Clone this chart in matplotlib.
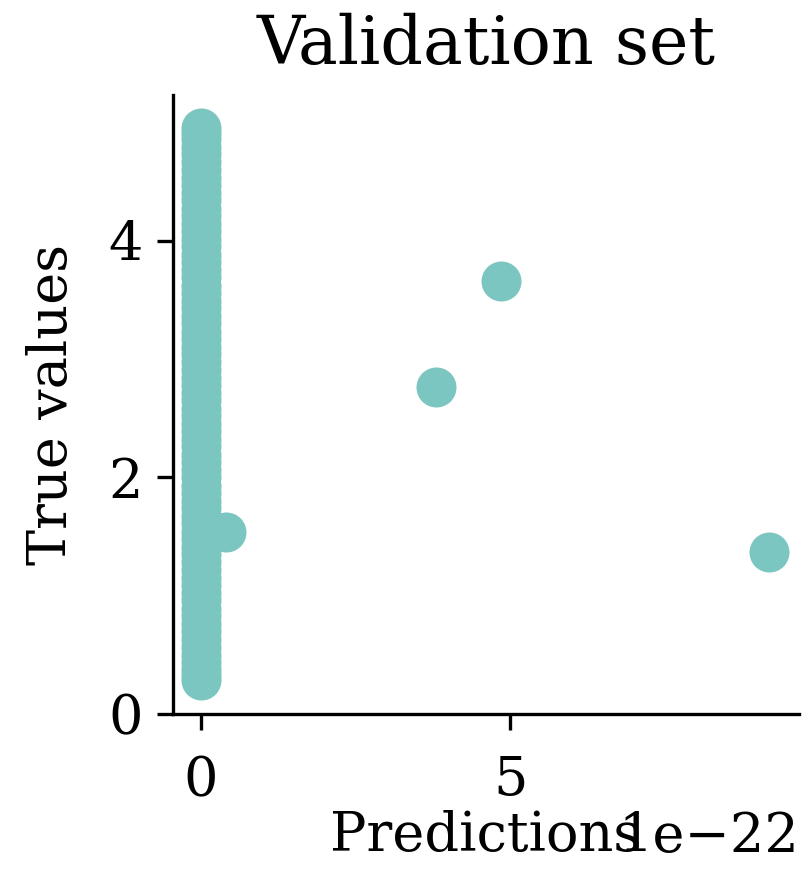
import numpy as np
import matplotlib
matplotlib.use("Agg")
import matplotlib.pyplot as plt

# predictions collapsed at zero (model output ~1e-22), true values spread out
zero_true = [0.29, 0.33, 0.38, 0.44, 0.50, 0.57, 0.63, 0.70, 0.76, 0.83,
             0.89, 0.96, 1.02, 1.09, 1.15, 1.22, 1.28, 1.35, 1.41, 1.48,
             1.54, 1.61, 1.67, 1.74, 1.80, 1.87, 1.93, 2.00, 2.06, 2.13,
             2.19, 2.26, 2.32, 2.39, 2.45, 2.52, 2.58, 2.65, 2.71, 2.78,
             2.84, 2.91, 2.97, 3.04, 3.10, 3.17, 3.23, 3.30, 3.36, 3.43,
             3.49, 3.56, 3.62, 3.69, 3.75, 3.82, 3.88, 3.95, 4.01, 4.08,
             4.14, 4.21, 4.27, 4.34, 4.40, 4.47, 4.53, 4.60, 4.66, 4.73,
             4.79, 4.86, 4.91, 4.95]
zero_pred = [0.0] * len(zero_true)

# the few non-zero predictions
other_pred = [0.40e-22, 3.80e-22, 4.85e-22, 9.17e-22]
other_true = [1.54, 2.76, 3.66, 1.37]

preds = np.array(zero_pred + other_pred)
trues = np.array(zero_true + other_true)

plt.rcParams["font.family"] = "DejaVu Serif"

fig = plt.figure(figsize=(8.05, 8.77), dpi=100)
ax = fig.add_axes([0.2149, 0.1859, 0.7776, 0.7058])

ax.scatter(preds, trues, s=830, color="#7cc6c1", linewidths=0)

ax.set_xlim(-0.45e-22, 9.66e-22)
ax.set_ylim(0, 5.23)
ax.set_xticks([0, 5e-22])
ax.set_yticks([0, 2, 4])

ax.spines["top"].set_visible(False)
ax.spines["right"].set_visible(False)
for sp in ["left", "bottom"]:
    ax.spines[sp].set_linewidth(2.4)
ax.tick_params(width=2.4, length=11.5, labelsize=39)
ax.tick_params(axis="x", pad=18)
ax.tick_params(axis="y", pad=10)
ax.xaxis.get_offset_text().set_fontsize(39)

ax.set_xlabel("Predictions", fontsize=39, labelpad=2)
ax.set_ylabel("True values", fontsize=39, labelpad=22)
ax.set_title("Validation set", fontsize=48, pad=22)

fig.savefig("out.png", dpi=100)
